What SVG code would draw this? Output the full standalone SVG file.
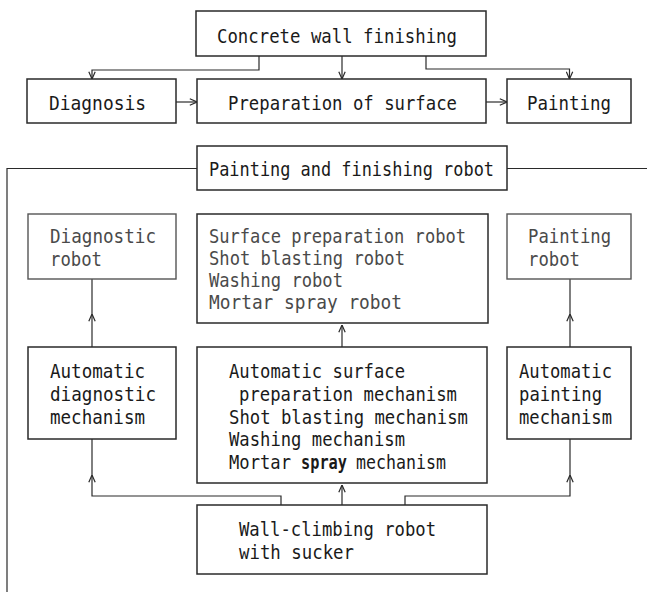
<svg xmlns="http://www.w3.org/2000/svg" width="647" height="592" viewBox="0 0 647 592">
<style>
.box{fill:none;stroke:#2a2a2a;stroke-width:1.5}
.lbox{fill:none;stroke:#555;stroke-width:1.4}
.ln{fill:none;stroke:#2a2a2a;stroke-width:1.2}
text{font-family:"DejaVu Sans Mono","Liberation Mono",monospace;font-size:20px;fill:#1a1a1a}
.lt{fill:#4a4a4a}
.bd{font-weight:bold}
</style>
<defs>
<marker id="ah" viewBox="0 0 10 10" refX="10" refY="5" markerWidth="8" markerHeight="8" markerUnits="userSpaceOnUse" orient="auto">
<path d="M1,1 L10,5 L1,9" fill="none" stroke="#2a2a2a" stroke-width="1.5"/>
</marker>
</defs>
<rect width="647" height="592" fill="#ffffff"/>

<g id="connectors">
<path class="ln" d="M259,56 V70 H92 V79" marker-end="url(#ah)"/>
<path class="ln" d="M342,56 V79" marker-end="url(#ah)"/>
<path class="ln" d="M426,56 V69 H569.5 V79" marker-end="url(#ah)"/>
<path class="ln" d="M176,102 H197" marker-end="url(#ah)"/>
<path class="ln" d="M486,102 H507" marker-end="url(#ah)"/>
<path class="ln" d="M197,168.5 H7 V592"/>
<path class="ln" d="M507,168.5 H647"/>
<path class="ln" d="M92,347 V314" marker-end="url(#ah)"/>
<path class="ln" d="M92,314 V279"/>
<path class="ln" d="M342,347 V325" marker-end="url(#ah)"/>
<path class="ln" d="M570,347 V314" marker-end="url(#ah)"/>
<path class="ln" d="M570,314 V279"/>
<path class="ln" d="M281,505 V496 H92 V475" marker-end="url(#ah)"/>
<path class="ln" d="M92,475 V439"/>
<path class="ln" d="M342,505 V485" marker-end="url(#ah)"/>
<path class="ln" d="M405,505 V496 H570 V475" marker-end="url(#ah)"/>
<path class="ln" d="M570,475 V439"/>
</g>

<g id="concrete">
<rect class="box" x="196" y="11" width="290" height="45"/>
<text x="217" y="43" textLength="240" lengthAdjust="spacingAndGlyphs">Concrete wall finishing</text>
</g>
<g id="diagnosis">
<rect class="box" x="27" y="79" width="149" height="44"/>
<text x="49" y="110" textLength="97" lengthAdjust="spacingAndGlyphs">Diagnosis</text>
</g>
<g id="preparation">
<rect class="box" x="197" y="79" width="289" height="44"/>
<text x="228" y="110" textLength="229" lengthAdjust="spacingAndGlyphs">Preparation of surface</text>
</g>
<g id="painting">
<rect class="box" x="507" y="79" width="124" height="44"/>
<text x="527" y="110" textLength="84" lengthAdjust="spacingAndGlyphs">Painting</text>
</g>
<g id="pf-robot">
<rect class="box" x="197" y="146" width="310" height="44"/>
<text x="209" y="176" textLength="285" lengthAdjust="spacingAndGlyphs">Painting and finishing robot</text>
</g>
<g id="diagnostic-robot">
<rect class="lbox" x="28" y="214" width="148" height="65"/>
<text class="lt" x="50" y="243" textLength="106" lengthAdjust="spacingAndGlyphs">Diagnostic</text>
<text class="lt" x="50" y="266" textLength="52" lengthAdjust="spacingAndGlyphs">robot</text>
</g>
<g id="surface-robot">
<rect class="box" x="197" y="214" width="291" height="109"/>
<text class="lt" x="209" y="243" textLength="257" lengthAdjust="spacingAndGlyphs">Surface preparation robot</text>
<text class="lt" x="209" y="265" textLength="196" lengthAdjust="spacingAndGlyphs">Shot blasting robot</text>
<text class="lt" x="209" y="287" textLength="134" lengthAdjust="spacingAndGlyphs">Washing robot</text>
<text class="lt" x="209" y="309" textLength="193" lengthAdjust="spacingAndGlyphs">Mortar spray robot</text>
</g>
<g id="painting-robot">
<rect class="lbox" x="507" y="214" width="124" height="65"/>
<text class="lt" x="528" y="243" textLength="83" lengthAdjust="spacingAndGlyphs">Painting</text>
<text class="lt" x="528" y="266" textLength="52" lengthAdjust="spacingAndGlyphs">robot</text>
</g>
<g id="auto-diag">
<rect class="box" x="28" y="347" width="148" height="92"/>
<text x="50" y="378" textLength="95" lengthAdjust="spacingAndGlyphs">Automatic</text>
<text x="50" y="401" textLength="106" lengthAdjust="spacingAndGlyphs">diagnostic</text>
<text x="50" y="424" textLength="95" lengthAdjust="spacingAndGlyphs">mechanism</text>
</g>
<g id="auto-surface">
<rect class="box" x="197" y="347" width="290" height="136"/>
<text x="229" y="378" textLength="176" lengthAdjust="spacingAndGlyphs">Automatic surface</text>
<text x="239" y="401" textLength="218" lengthAdjust="spacingAndGlyphs">preparation mechanism</text>
<text x="229" y="424" textLength="239" lengthAdjust="spacingAndGlyphs">Shot blasting mechanism</text>
<text x="229" y="446" textLength="176" lengthAdjust="spacingAndGlyphs">Washing mechanism</text>
<text x="229" y="469" textLength="62" lengthAdjust="spacingAndGlyphs">Mortar</text>
<text class="bd" x="301" y="469" textLength="46" lengthAdjust="spacingAndGlyphs">spray</text>
<text x="356" y="469" textLength="90" lengthAdjust="spacingAndGlyphs">mechanism</text>
</g>
<g id="auto-painting">
<rect class="box" x="507" y="347" width="124" height="92"/>
<text x="519" y="378" textLength="93" lengthAdjust="spacingAndGlyphs">Automatic</text>
<text x="519" y="401" textLength="83" lengthAdjust="spacingAndGlyphs">painting</text>
<text x="519" y="424" textLength="93" lengthAdjust="spacingAndGlyphs">mechanism</text>
</g>
<g id="wall-robot">
<rect class="box" x="197" y="505" width="290" height="69"/>
<text x="239" y="536" textLength="197" lengthAdjust="spacingAndGlyphs">Wall-climbing robot</text>
<text x="239" y="559" textLength="115" lengthAdjust="spacingAndGlyphs">with sucker</text>
</g>
</svg>
